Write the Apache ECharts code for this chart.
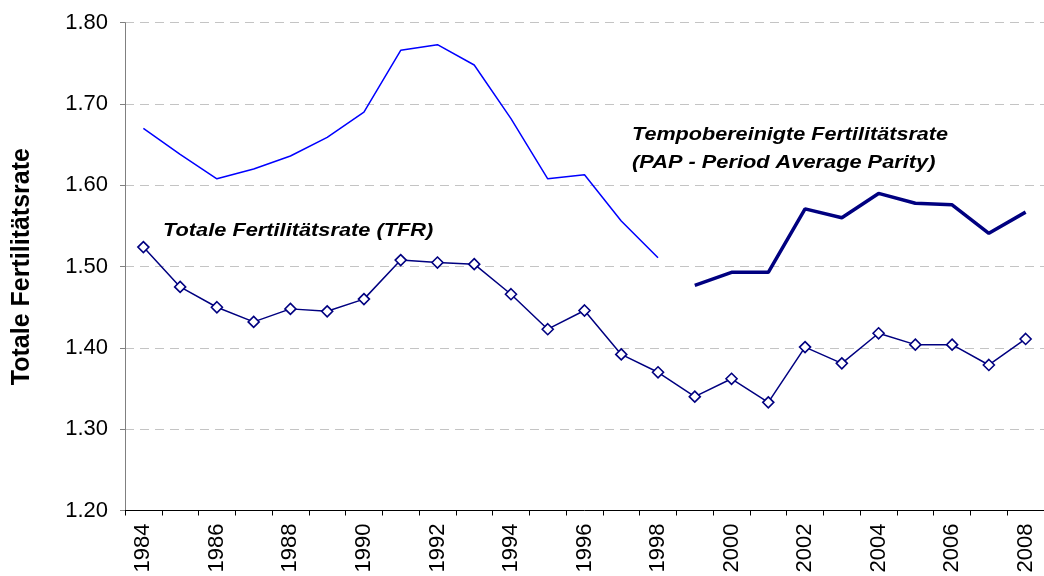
<!DOCTYPE html>
<html>
<head>
<meta charset="utf-8">
<script src="https://cdn.jsdelivr.net/npm/echarts@6/dist/echarts.min.js"></script>
<style>
html,body{margin:0;padding:0;background:#fff;}
#chart{width:1044px;height:576px;}
</style>
</head>
<body>
<div id="chart"></div>
<script>
var years = ['1984','1985','1986','1987','1988','1989','1990','1991','1992','1993','1994','1995','1996','1997','1998','1999','2000','2001','2002','2003','2004','2005','2006','2007','2008'];
var tfr = [1.524,1.475,1.450,1.432,1.448,1.445,1.460,1.508,1.505,1.503,1.466,1.423,1.446,1.392,1.370,1.340,1.362,1.333,1.401,1.381,1.418,1.404,1.404,1.379,1.411];
var papEarly = [1.670,1.638,1.608,1.620,1.636,1.659,1.690,1.766,1.773,1.748,1.682,1.608,1.613,1.556,1.511,null,null,null,null,null,null,null,null,null,null];
var papLate = [null,null,null,null,null,null,null,null,null,null,null,null,null,null,null,1.477,1.493,1.493,1.571,1.560,1.590,1.578,1.576,1.541,1.567];
var yTitle = 'Totale Fertilitätsrate';
var tfrLabel = 'Totale Fertilitätsrate (TFR)';
var papLabel1 = 'Tempobereinigte Fertilitätsrate';
var papLabel2 = '(PAP - Period Average Parity)';

var chart = echarts.init(document.getElementById('chart'), null, {renderer:'canvas'});
var font = 'Liberation Sans, Arial, sans-serif';
var annFont = 'italic bold 18px Liberation Sans, Arial, sans-serif';
chart.setOption({
  animation:false,
  backgroundColor:'#fff',
  grid:{left:125, top:22.7, width:930, height:487.8, containLabel:false},
  xAxis:{
    type:'category',
    data:years,
    boundaryGap:true,
    axisLine:{lineStyle:{color:'#000', width:1}},
    axisTick:{show:true, interval:0, length:5, lineStyle:{color:'#000'}},
    axisLabel:{interval:1, rotate:90, color:'#000', fontFamily:font, fontSize:22, margin:13},
    splitLine:{show:false}
  },
  yAxis:{
    type:'value', min:1.2, max:1.8, interval:0.1,
    name:yTitle, nameLocation:'middle', nameGap:90, nameRotate:90,
    nameTextStyle:{color:'#000', fontFamily:font, fontSize:25, fontWeight:'bold'},
    axisLine:{show:true, lineStyle:{color:'#808080', width:1}},
    axisTick:{show:true, length:5, lineStyle:{color:'#808080'}},
    axisLabel:{color:'#000', fontFamily:font, fontSize:22, margin:17, formatter:function(v){return v.toFixed(2);}},
    splitLine:{show:true, lineStyle:{color:'#c4c4c4', type:[9,6], width:1}}
  },
  series:[
    {type:'line', name:'PAP1', data:papEarly, symbol:'none', connectNulls:false,
     lineStyle:{color:'#0000ff', width:1.5}, itemStyle:{color:'#0000ff'}, z:2},
    {type:'line', name:'PAP2', data:papLate, symbol:'none', connectNulls:false,
     lineStyle:{color:'#000080', width:3.5}, itemStyle:{color:'#000080'}, z:2},
    {type:'line', name:'TFR', data:tfr, symbol:'diamond', symbolSize:[11,11],
     lineStyle:{color:'#000080', width:1.5},
     itemStyle:{color:'#fff', borderColor:'#000080', borderWidth:1.6}, z:3}
  ],
  graphic:[
    {type:'text', x:163, y:222, scaleX:1.21, style:{x:0, y:0, text:tfrLabel, fill:'#000', font:annFont, verticalAlign:'top'}},
    {type:'text', x:632, y:126, scaleX:1.2, style:{x:0, y:0, text:papLabel1, fill:'#000', font:annFont, verticalAlign:'top'}},
    {type:'text', x:632, y:154, scaleX:1.21, style:{x:0, y:0, text:papLabel2, fill:'#000', font:annFont, verticalAlign:'top'}}
  ]
});
</script>
</body>
</html>
